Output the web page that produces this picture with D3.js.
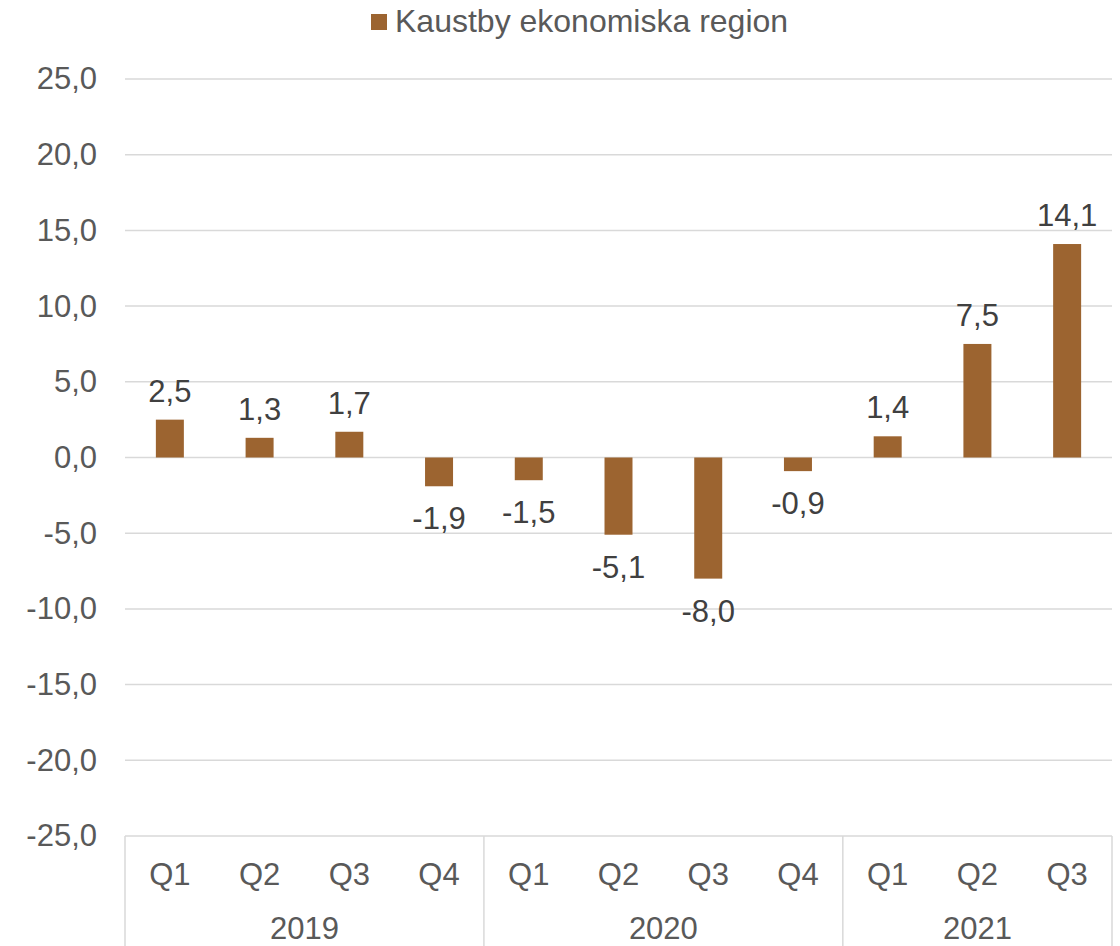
<!DOCTYPE html>
<html>
<head>
<meta charset="utf-8">
<script src="https://cdn.jsdelivr.net/npm/d3@7"></script>
<style>
  html, body { margin: 0; padding: 0; background: #fff; }
  svg { display: block; font-family: "Liberation Sans", Arial, sans-serif; }
</style>
</head>
<body>
<svg id="chart" width="1120" height="946"></svg>
<script>
// chart data
const seriesName = 'Kaustby ekonomiska region';
const quarters = ['Q1', 'Q2', 'Q3', 'Q4', 'Q1', 'Q2', 'Q3', 'Q4', 'Q1', 'Q2', 'Q3'];
const years = ['2019', '2019', '2019', '2019', '2020', '2020', '2020', '2020', '2021', '2021', '2021'];
const values = [2.5, 1.3, 1.7, -1.9, -1.5, -5.1, -8.0, -0.9, 1.4, 7.5, 14.1];
const yTicks = [25, 20, 15, 10, 5, 0, -5, -10, -15, -20, -25];

const W = 1120, H = 946;
const margin = { top: 79, right: 8, bottom: 110, left: 125 };
const barColor = '#9c6430';
const gridColor = '#d9d9d9';

// comma as decimal sign, plain hyphen as minus
const locale = d3.formatLocale({ decimal: ',', thousands: ' ', grouping: [3], currency: ['', ''], minus: '-' });
const fmt = locale.format('.1f');

const svg = d3.select('#chart');

const x = d3.scaleBand()
  .domain(d3.range(values.length))
  .range([margin.left, W - margin.right])
  .paddingInner(0.688)
  .paddingOuter(0.344);

const y = d3.scaleLinear()
  .domain([-25, 25])
  .range([H - margin.bottom, margin.top]);

// gridlines
svg.append('g')
  .selectAll('line')
  .data(yTicks)
  .join('line')
  .attr('x1', margin.left)
  .attr('x2', W - margin.right)
  .attr('y1', d => y(d))
  .attr('y2', d => y(d))
  .attr('stroke', gridColor)
  .attr('stroke-width', 1.5);

// y axis labels
const yAxis = svg.append('g')
  .attr('transform', 'translate(97,0)')
  .call(d3.axisLeft(y).tickValues(yTicks).tickFormat(fmt).tickSize(0).tickPadding(0));
yAxis.select('.domain').remove();
yAxis.selectAll('text')
  .attr('font-size', 31)
  .attr('fill', '#595959')
  .attr('font-family', '"Liberation Sans", Arial, sans-serif');

// bars
svg.append('g')
  .selectAll('rect')
  .data(values)
  .join('rect')
  .attr('x', (d, i) => x(i))
  .attr('width', x.bandwidth())
  .attr('y', d => y(Math.max(0, d)))
  .attr('height', d => Math.abs(y(d) - y(0)))
  .attr('fill', barColor);

// data labels
svg.append('g')
  .selectAll('text')
  .data(values)
  .join('text')
  .attr('x', (d, i) => x(i) + x.bandwidth() / 2)
  .attr('y', d => d >= 0 ? y(d) - 18 : y(d) + 43)
  .attr('text-anchor', 'middle')
  .attr('font-size', 31)
  .attr('fill', '#404040')
  .text(d => fmt(d));

// category axis: quarter labels
const axisTop = y(-25);
svg.append('g')
  .selectAll('text')
  .data(quarters)
  .join('text')
  .attr('x', (d, i) => x(i) + x.bandwidth() / 2)
  .attr('y', axisTop + 49)
  .attr('text-anchor', 'middle')
  .attr('font-size', 31)
  .attr('fill', '#595959')
  .text(d => d);

// year groups
const groups = d3.groups(values.map((v, i) => ({ i, year: years[i] })), d => d.year);
const step = x.step();
const groupEdge = i => margin.left + i * step;

svg.append('g')
  .selectAll('text')
  .data(groups)
  .join('text')
  .attr('x', ([, items]) => (groupEdge(items[0].i) + groupEdge(items[items.length - 1].i + 1)) / 2)
  .attr('y', axisTop + 103)
  .attr('text-anchor', 'middle')
  .attr('font-size', 31)
  .attr('fill', '#595959')
  .text(([yr]) => yr);

// separators between groups
const edges = [0].concat(groups.map(([, items]) => items[items.length - 1].i + 1));
svg.append('g')
  .selectAll('line')
  .data(edges)
  .join('line')
  .attr('x1', d => Math.min(groupEdge(d), W - margin.right))
  .attr('x2', d => Math.min(groupEdge(d), W - margin.right))
  .attr('y1', axisTop)
  .attr('y2', H)
  .attr('stroke', gridColor)
  .attr('stroke-width', 1.5);

// legend
const legend = svg.append('g');
legend.append('rect')
  .attr('x', 371).attr('y', 14)
  .attr('width', 16).attr('height', 16)
  .attr('fill', barColor);
legend.append('text')
  .attr('x', 395).attr('y', 32)
  .attr('font-size', 32)
  .attr('fill', '#595959')
  .text(seriesName);
</script>
</body>
</html>
